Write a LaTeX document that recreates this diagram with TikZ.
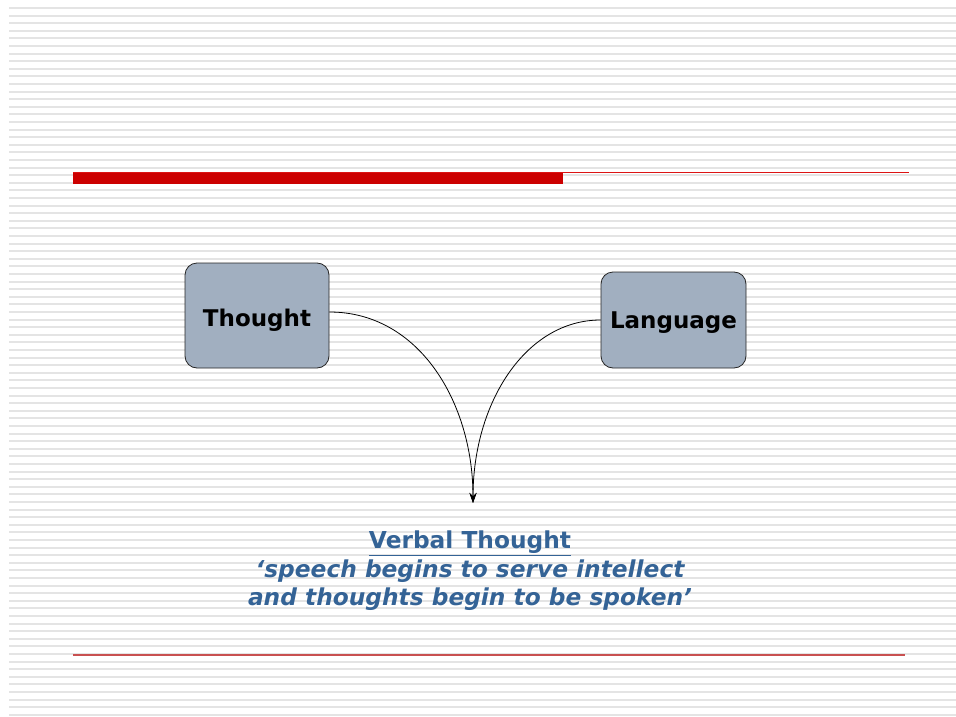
\documentclass[tikz,border=0pt]{standalone}
\usepackage{fontspec}
\newfontfamily\vfont{DejaVu Sans}
\usetikzlibrary{arrows.meta}
\definecolor{stripegray}{RGB}{228,228,228}
\definecolor{barred}{RGB}{204,0,0}
\definecolor{thinred}{RGB}{220,20,20}
\definecolor{lowred}{RGB}{200,80,80}
\definecolor{boxfill}{RGB}{161,175,192}
\definecolor{textblue}{RGB}{52,99,150}
\tikzset{
  stripe/.style={draw=stripegray, line width=2},
  conceptbox/.style={draw=black!85, line width=0.8, fill=boxfill, rounded corners=12,
    inner sep=0, text depth=0pt, font=\vfont\bfseries\fontsize{23}{28}\selectfont},
  link/.style={draw=black, line width=0.8},
}
\begin{document}
\begin{tikzpicture}[x=1pt,y=-1pt]
\useasboundingbox (0,0) rectangle (956,717);
\fill[white] (0,0) rectangle (956,717);
\foreach \k in {0,...,93}{
  \draw[stripe] (9,{8+7.6*\k}) -- (956,{8+7.6*\k});
}
% title rules
\fill[barred] (73,172) rectangle (563,184);
\draw[thinred, line width=1] (73,172.5) -- (909,172.5);
\draw[lowred, line width=1.3] (73,655) -- (905,655);
% boxes
\node[conceptbox, text height=22, minimum width=144, minimum height=105] (th) at (257,315.5) {Thought};
\node[conceptbox, text height=17, minimum width=145, minimum height=96] (la) at (673.5,320) {Language};
\coordinate (tip) at (473,503);
\draw[link, -{Stealth[length=10,width=7]}] ([yshift=3.5pt]th.east) .. controls +(90,0) and +(0,-100) .. (tip);
\draw[link, -{Stealth[length=10,width=7]}] (la.west) .. controls +(-75,0) and +(0,-100) .. (tip);
% caption
\node[text=textblue, align=center, font=\vfont\bfseries\fontsize{23.3}{28.5}\selectfont] (vt) at (470,571)
  {\underline{Verbal Thought}\\ \itshape ‘speech begins to serve intellect\\ \itshape and thoughts begin to be spoken’};
\end{tikzpicture}
\end{document}
